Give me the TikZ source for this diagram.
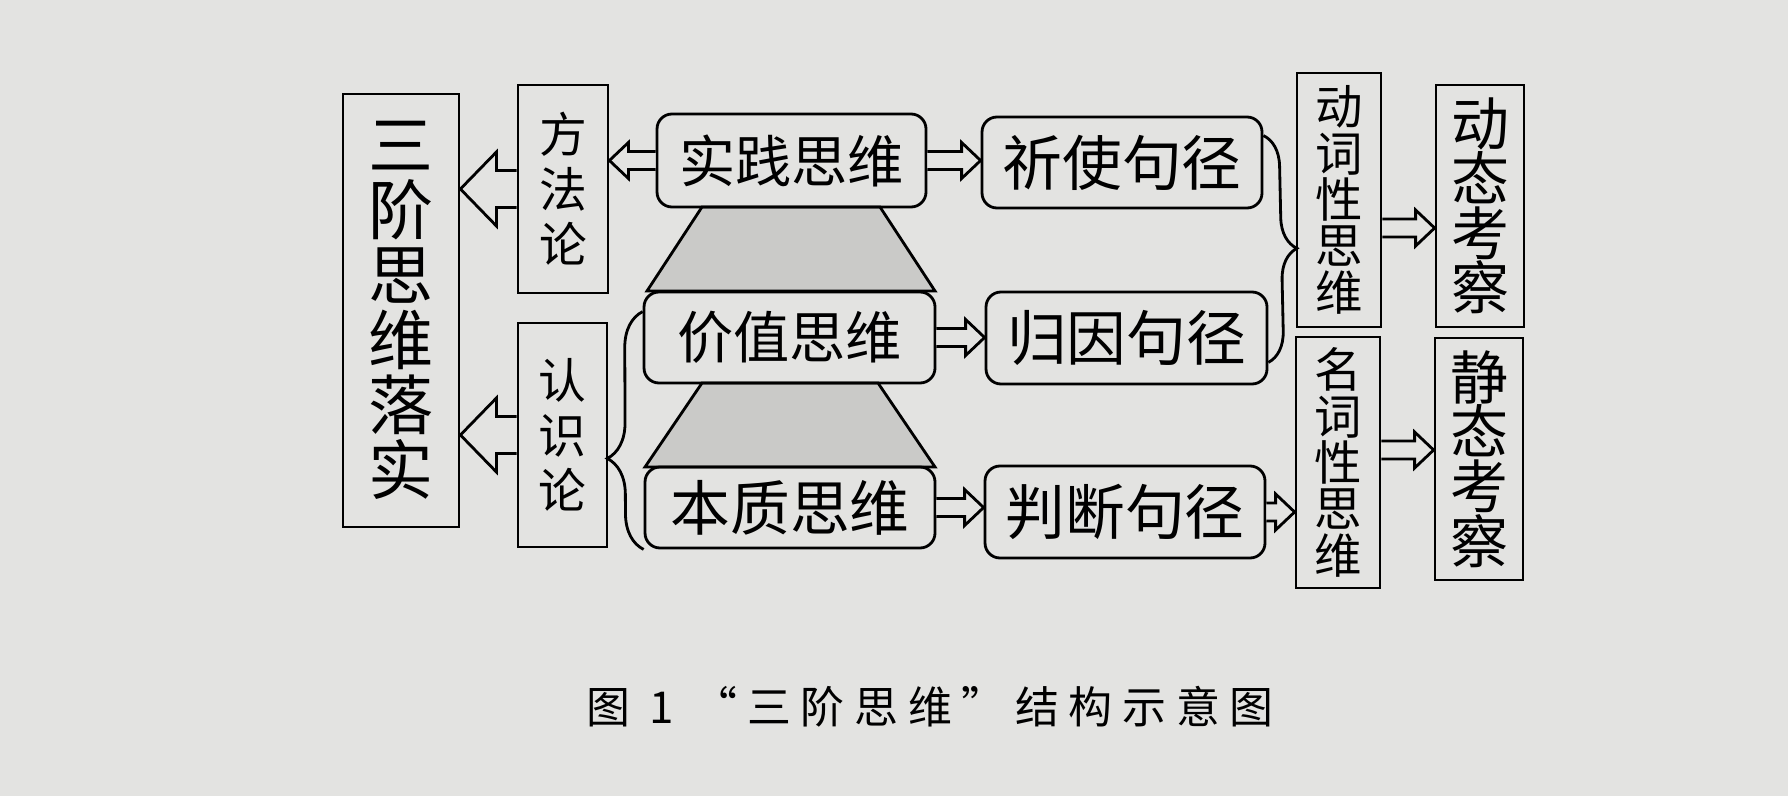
\documentclass[tikz,border=0pt]{standalone}
\usepackage{fontspec}
\newfontfamily\cjk{Noto Sans CJK SC}
\newfontfamily\cjkcap[LetterSpace=22]{Noto Sans CJK SC}
\usepackage{tikz}
\usetikzlibrary{calc,decorations.pathreplacing}
\definecolor{paper}{RGB}{227,227,225}
\definecolor{shade}{RGB}{202,202,200}
\newcommand{\hollow}[5]{%
\draw[line width=0.8pt,fill=paper] let \p1=(#1), \p2=(#2), \n1={sign(\x2-\x1)} in
  (\x1,{\y1+#3}) -- ({\x2-(\n1)*#5},{\y1+#3}) -- ({\x2-(\n1)*#5},{\y1+#4}) -- (\x2,\y1)
  -- ({\x2-(\n1)*#5},{\y1-#4}) -- ({\x2-(\n1)*#5},{\y1-#3}) -- (\x1,{\y1-#3});}

\begin{document}
\begin{tikzpicture}[box/.style={draw,line width=0.8pt,inner sep=0pt,align=center},
  rbox/.style={box,rounded corners=0.15cm},
  curly/.style={line width=0.8pt,decorate}]
\fill[paper] (0,0) rectangle (17.88,7.96);

\draw [fill=shade,line width=0.8pt] (7.02,5.89) -- (8.80,5.89) -- (9.35,5.05) -- (6.47,5.05) -- cycle;
\draw [fill=shade,line width=0.8pt] (7.02,4.13) -- (8.78,4.13) -- (9.35,3.29) -- (6.45,3.29) -- cycle;

\node[box,minimum width=1.16cm,minimum height=4.33cm,font=\cjk\fontsize{18.5}{18.5}\selectfont] (sanjie) at (4.01,4.855) {三\\阶\\思\\维\\落\\实};
\node[box,minimum width=0.90cm,minimum height=2.08cm,font=\cjk\fontsize{13.6}{15.6}\selectfont] (fangfa) at (5.63,6.07) {方\\法\\论};
\node[box,minimum width=0.89cm,minimum height=2.24cm,font=\cjk\fontsize{13.6}{15.6}\selectfont] (renshi) at (5.625,3.61) {认\\识\\论};

\node[rbox,minimum width=2.69cm,minimum height=0.93cm,font=\cjk\fontsize{16}{18}\selectfont] (shijian) at (7.915,6.355) {实践思维};
\node[rbox,minimum width=2.91cm,minimum height=0.91cm,font=\cjk\fontsize{16}{18}\selectfont] (jiazhi) at (7.895,4.585) {价值思维};
\node[rbox,minimum width=2.90cm,minimum height=0.81cm,font=\cjk\fontsize{17}{19}\selectfont] (benzhi) at (7.90,2.885) {本质思维};

\node[rbox,minimum width=2.80cm,minimum height=0.91cm,font=\cjk\fontsize{17}{19}\selectfont] (qishi) at (11.22,6.335) {祈使句径};
\node[rbox,minimum width=2.81cm,minimum height=0.92cm,font=\cjk\fontsize{17}{19}\selectfont] (guiyin) at (11.265,4.58) {归因句径};
\node[rbox,minimum width=2.80cm,minimum height=0.92cm,font=\cjk\fontsize{17}{19}\selectfont] (panduan) at (11.25,2.84) {判断句径};

\node[box,minimum width=0.84cm,minimum height=2.54cm,font=\cjk\fontsize{13.5}{13.2}\selectfont] (dongci) at (13.39,5.96) {动\\词\\性\\思\\维};
\node[box,minimum width=0.84cm,minimum height=2.51cm,font=\cjk\fontsize{13.5}{13.2}\selectfont] (mingci) at (13.38,3.335) {名\\词\\性\\思\\维};
\node[box,minimum width=0.88cm,minimum height=2.42cm,font=\cjk\fontsize{16.5}{15.6}\selectfont] (dongtai) at (14.80,5.90) {动\\态\\考\\察};
\node[box,minimum width=0.88cm,minimum height=2.42cm,font=\cjk\fontsize{16.5}{15.6}\selectfont] (jingtai) at (14.79,3.37) {静\\态\\考\\察};

\hollow{fangfa.west}{sanjie.east}{0.185cm}{0.37cm}{0.36cm}
\hollow{renshi.west}{sanjie.east}{0.185cm}{0.37cm}{0.36cm}
\hollow{shijian.west}{fangfa.east}{0.09cm}{0.18cm}{0.19cm}
\hollow{shijian.east}{qishi.west}{0.09cm}{0.18cm}{0.19cm}
\hollow{jiazhi.east}{guiyin.west}{0.09cm}{0.18cm}{0.19cm}
\hollow{benzhi.east}{panduan.west}{0.09cm}{0.18cm}{0.19cm}
\hollow{panduan.east}{mingci.west}{0.09cm}{0.18cm}{0.19cm}
\hollow{[yshift=-0.28cm]dongci.east}{dongtai.west}{0.09cm}{0.18cm}{0.19cm}
\hollow{[yshift=0.125cm]mingci.east}{jingtai.west}{0.09cm}{0.18cm}{0.19cm}

\draw[curly,decoration={brace,amplitude=0.36cm,aspect=0.383}] (benzhi.south west) -- ([yshift=-0.21cm]jiazhi.north west);
\draw[curly,decoration={brace,amplitude=0.31cm,aspect=0.5}] ([yshift=-0.2cm]qishi.north east) -- ([yshift=0.23cm]guiyin.south east);

\node[font=\cjkcap\fontsize{12.5}{14}\selectfont] (caption) at (9.30,0.89) {图 1 “三阶思维”结构示意图};
\end{tikzpicture}
\end{document}
